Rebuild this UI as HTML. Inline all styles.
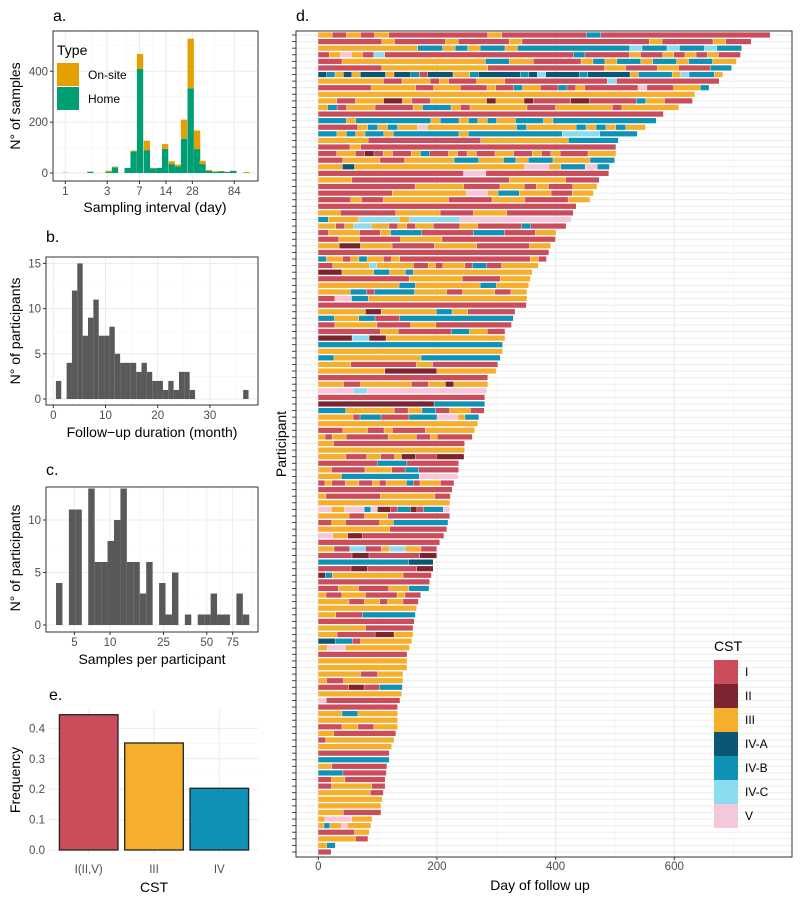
<!DOCTYPE html>
<html><head><meta charset="utf-8">
<style>
html,body{margin:0;padding:0;background:#fff;}
svg{display:block;font-family:"Liberation Sans",Arial,sans-serif;}
.tick{font-size:11.5px;fill:#4d4d4d;}
.atitle{font-size:14px;fill:#000;}
.plab{font-size:16px;fill:#000;}
</style></head>
<body>
<svg id="fig" width="800" height="900" viewBox="0 0 800 900"></svg>
<script>
// ---------- Panel a data ----------
const aDays   = [1.0,1.93,3.12,3.68,5.13,6.0,7.1,8.5,10.0,11.8,13.7,16.3,19.2,22.5,26.8,31.7,36.6,43.1,50.6,59.6,69.6,81.9,116];
const aHome   = [1,5,5,22,20,85,409,90,18,20,95,35,26,135,333,94,35,8,5,7,4,8,1];
const aOnsite = [0,0,4,3,0,3,59,37,2,0,19,11,7,75,195,73,13,4,2,1,1,1,3];
const aXTicks = [1,3,7,14,28,84];
const aYTicks = [0,200,400];
// ---------- Panel b data ----------
const bCounts = [2,0,4,12,15,7,9,11,7,7,8,5,4,4,4,3,4,3,2,2,1,2,1,3,3,1,0,0,0,0,0,0,0,0,0,1];
const bXTicks = [0,10,20,30];
const bYTicks = [0,5,10,15];
// ---------- Panel c data ----------
const cCounts = [4,0,11,11,0,13,6,6,8,10,13,6,6,3,6,0,4,1,5,0,1,0,1,1,3,1,1,0,3,1];
const cXTicks = [5,10,25,50,75];
const cYTicks = [0,5,10];
// ---------- Panel e data ----------
const eCats = ["I(II,V)","III","IV"];
const eVals = [0.445,0.352,0.203];
const eYTicks = [0,0.1,0.2,0.3,0.4];
// ---------- Panel d data ----------
const dLengths = [762,730,714,712,705,697,682,676,659,635,631,608,582,570,552,538,506,502,502,500,491,490,474,470,464,458,435,430,427,418,401,400,392,
389,385,371,361,358,355,352,352,351,332,329,326,315,315,311,311,307,303,300,286,286,284,281,281,280,271,269,264,260,247,247,246,
237,237,236,229,226,223,222,222,222,219,217,212,205,200,200,194,194,191,188,187,173,169,166,164,162,160,160,158,154,150,150,150,
143,143,142,141,138,134,134,134,134,131,128,124,120,120,116,115,113,113,110,108,106,106,91,89,86,84,29,22];
const dSeqs = ["3131311111113111111B111111111111","1111131111311113111111111131111311","33333333BB3B3BB3BBBBBBBBBCBBCBBCBB","13531C11111111111111111B11113113131311",
"11333333333333BB3311113B3BB3BB3BB33","1111113333333333111111111113311133111BB","AB3A3AAA3AAB1AAA33BAAAAABACAAAABAAAAA3BBBB3CBBB3","3333333113331311133311111111111C11111111111",
"1111113333311333111311B3311B131111115111333B","3","3311333223113333332333211112211111B33111","3B133311113BBB313333331113333331333333","1",
"BBB3BBBBBBBB3BB3B3B33BBB3BBBBBBBBBBB","11113B3B335333333333B33333B3B3B33","BB3B3BB3BBBBBBB3BBBBBBBBBBCCCCBBBB","33331111111113333333BBBB","1113111111111111111111111111",
"11331213113B11313113311313111333","11333113333BB33B3BB333BB","33A33333333333333553BB5B","11111111111115511111111111","3331111111111111133333111","11111111333311133131133",
"11111113333333553BB3331133","1113113333331111333111133","1","33111113333111333111111","B333CCCC3CCCCC55555555555","3313CC33131331113311111B1111","1333113BBB11111BBB11133",
"11331111333311111111111","3322333111133331111133","1","B3313B3313111111111111111131","1133333C3333311313331BB1133333","2223333BB33B333333333333333","1111111111113333333111113333",
"3333333333BB33333333BB3333","3333BB1BBBBB33331133331133","1155BB3333333333333333333","1","333333223333333BB33111111","BB333BB111BBBBBBBBBBBBBB","11333331111333111111111",
"111111133111111BB3311","2222CC2233333333333333","B","3","BB33333333333BBBBBBBBBB","3333111111113311111111","333333333222222233333333","1","33311333333113323333",
"55555CC55555555555555555","1","2222222222222222BBBBBBB","BBBB33333331133BB1133311","333331BBB1111BBBB5553BB","3","1113331131111333333","3133111111333311311111",
"3311111111111111111","3","333311133113221112222","11111111BBBB1111111","3311111333311BB111111","333BBBBBBBBBB55555","1311331131333B133311","1","31111111333333311","3",
"5533555B5221BB21BBB5","33331133311111111","11331111133BBBBBBBB","333333333311111111","55332211111111111","1","3311CC113CC3311","11112211111122","BBBBBBBBBBBAAA",
"11112211111122","2B33333333331111","1","113311133BB","3113331111311","3333113313311","3","33111BBBBBB","1","3333311111","3311112233","AABB1333333","3553333333","1","3","3",
"3333311333","3113333333","11112211BBB","3","5111111111","1","333BB33333","3","1113311333","3311111111","1333333333","3","1","B","3311111111","BBBB1111111","1133111111",
"1133333311","3333333311","3","3","3333111111","35555333","3B3353333","1111133","33333311","33BB","11"];
const dXTicks = [0,200,400,600];
const cstNames = ["I","II","III","IV-A","IV-B","IV-C","V"];
const cstCodes = ["1","2","3","A","B","C","5"];
const cstColors = ["#CB4D5B","#7C2530","#F6AE2D","#0B5672","#0E93B7","#8ADDF0","#F5C7DB"];

const NS="http://www.w3.org/2000/svg";
const svg=document.getElementById('fig');
function mk(tag,attrs,parent){const e=document.createElementNS(NS,tag);for(const k in attrs)e.setAttribute(k,attrs[k]);(parent||svg).appendChild(e);return e;}
function txt(s,x,y,cls,anchor,parent,rot){const t=mk('text',{x:x,y:y,class:cls,'text-anchor':anchor||'middle'},parent);if(rot)t.setAttribute('transform','rotate(-90 '+x+' '+y+')');t.textContent=s;return t;}
function grp(name){const g=mk('g',{});return g;}
function hline(g,x1,x2,y,c,w){mk('line',{x1:x1,x2:x2,y1:y,y2:y,stroke:c,'stroke-width':w},g);}
function vline(g,x,y1,y2,c,w){mk('line',{x1:x,x2:x,y1:y1,y2:y2,stroke:c,'stroke-width':w},g);}
const GMAJ="#ebebeb",GMIN="#f4f4f4";

// ===== Panel a =====
(function(){
const g=grp('panel-a');
const L=53,R=258,T=31,B=181;
const xs=d=>65.3+87.8*Math.log10(d);
const ys=v=>173-v*0.2543;
[100,300,500].forEach(v=>hline(g,L,R,ys(v),GMIN,0.6));
aYTicks.forEach(v=>hline(g,L,R,ys(v),GMAJ,1));
[2,5,10,20,50].forEach(v=>vline(g,xs(v),T,B,GMIN,0.6));
aXTicks.forEach(v=>vline(g,xs(v),T,B,GMAJ,1));
const hw=0.036;
for(let i=0;i<aDays.length;i++){
  const x0=xs(aDays[i]/Math.pow(10,hw)), x1=xs(aDays[i]*Math.pow(10,hw));
  const h=mk('rect',{x:x0,y:ys(aHome[i]),width:x1-x0,height:ys(0)-ys(aHome[i]),fill:'#009E73'},g);
  
  const o=mk('rect',{x:x0,y:ys(aHome[i]+aOnsite[i]),width:x1-x0,height:ys(aHome[i])-ys(aHome[i]+aOnsite[i]),fill:'#E69F00'},g);
  
}
mk('rect',{x:L,y:T,width:R-L,height:B-T,fill:'none',stroke:'#333','stroke-width':1},g);
aYTicks.forEach(v=>{hline(g,L-3,L,ys(v),'#333',1);txt(String(v),L-5,ys(v)+4,'tick','end',g);});
aXTicks.forEach(v=>{vline(g,xs(v),B,B+3,'#333',1);txt(String(v),xs(v),B+14,'tick','middle',g);});
txt('a.',53,21,'plab','start',g);
txt('N° of samples',20,106,'atitle','middle',g,true);
txt('Sampling interval (day)',155,212,'atitle','middle',g);
const lg=grp('legend-type');
txt('Type',57,55,'atitle','start',lg);
mk('rect',{x:57,y:63,width:22,height:23,fill:'#E69F00'},lg);
txt('On-site',88,79,'tick','start',lg).setAttribute('style','fill:#000;font-size:12px');
mk('rect',{x:57,y:87,width:22,height:23,fill:'#009E73'},lg);
txt('Home',88,103,'tick','start',lg).setAttribute('style','fill:#000;font-size:12px');
})();

// ===== Panel b =====
(function(){
const g=grp('panel-b');
const L=46,R=258,T=257,B=405;
const xs=m=>53.3+5.22*m;
const ys=v=>399-9.04*v;
[2.5,7.5,12.5].forEach(v=>hline(g,L,R,ys(v),GMIN,0.6));
bYTicks.forEach(v=>hline(g,L,R,ys(v),GMAJ,1));
[5,15,25,35].forEach(v=>vline(g,xs(v),T,B,GMIN,0.6));
bXTicks.forEach(v=>vline(g,xs(v),T,B,GMAJ,1));
const bw=1.025,b0=0.5;
bCounts.forEach((c,i)=>{ if(!c)return;
  const r=mk('rect',{x:xs(b0+i*bw),y:ys(c),width:xs(b0+(i+1)*bw)-xs(b0+i*bw),height:ys(0)-ys(c),fill:'#595959'},g);
  });
mk('rect',{x:L,y:T,width:R-L,height:B-T,fill:'none',stroke:'#333','stroke-width':1},g);
bYTicks.forEach(v=>{hline(g,L-3,L,ys(v),'#333',1);txt(String(v),L-5,ys(v)+4,'tick','end',g);});
bXTicks.forEach(v=>{vline(g,xs(v),B,B+3,'#333',1);txt(String(v),xs(v),B+14,'tick','middle',g);});
txt('b.',46,242,'plab','start',g);
txt('N° of participants',20,331,'atitle','middle',g,true);
txt('Follow\u2212up duration (month)',152,437,'atitle','middle',g);
})();

// ===== Panel c =====
(function(){
const g=grp('panel-c');
const L=46,R=258,T=487,B=632;
const tr=v=>Math.log(v+2);
const xs=v=>110+66*(tr(v)-tr(10));
const xt=t=>110+66*(t-tr(10));
const ys=v=>625-10.5*v;
[2.5,7.5,12.5].forEach(v=>hline(g,L,R,ys(v),GMIN,0.6));
cYTicks.forEach(v=>hline(g,L,R,ys(v),GMAJ,1));
[7,17,37,62,100].forEach(v=>vline(g,xs(v),T,B,GMIN,0.6));
cXTicks.forEach(v=>vline(g,xs(v),T,B,GMAJ,1));
const t0=1.667,tw=0.0976;
cCounts.forEach((c,i)=>{ if(!c)return;
  const r=mk('rect',{x:xt(t0+i*tw),y:ys(c),width:xt(t0+(i+1)*tw)-xt(t0+i*tw),height:ys(0)-ys(c),fill:'#595959'},g);
  });
mk('rect',{x:L,y:T,width:R-L,height:B-T,fill:'none',stroke:'#333','stroke-width':1},g);
cYTicks.forEach(v=>{hline(g,L-3,L,ys(v),'#333',1);txt(String(v),L-5,ys(v)+4,'tick','end',g);});
cXTicks.forEach(v=>{vline(g,xs(v),B,B+3,'#333',1);txt(String(v),xs(v),B+14,'tick','middle',g);});
txt('c.',46,475,'plab','start',g);
txt('N° of participants',20,558,'atitle','middle',g,true);
txt('Samples per participant',152,664,'atitle','middle',g);
})();

// ===== Panel e =====
(function(){
const g=grp('panel-e');
const L=49,R=258,T=710,B=855;
const ys=v=>850-304*v;
const xc=i=>88.7+65.3*i;
[0.05,0.15,0.25,0.35].forEach(v=>hline(g,L,R,ys(v),GMIN,0.6));
eYTicks.forEach(v=>hline(g,L,R,ys(v),GMAJ,1));
eCats.forEach((c,i)=>vline(g,xc(i),T,B,GMAJ,1));
const ecol=["#CB4D5B","#F6AE2D","#0E93B7"];
eVals.forEach((v,i)=>{const r=mk('rect',{x:xc(i)-29.3,y:ys(v),width:58.6,height:ys(0)-ys(v),fill:ecol[i],stroke:'#222','stroke-width':1.3},g);
  });
eYTicks.forEach(v=>txt(v.toFixed(1),L-4,ys(v)+4,'tick','end',g));
eCats.forEach((c,i)=>txt(c,xc(i),873,'tick','middle',g));
txt('e.',49,700,'plab','start',g);
txt('Frequency',20,780,'atitle','middle',g,true);
txt('CST',154,892,'atitle','middle',g);
})();

// ===== Panel d =====
(function(){
const g=grp('panel-d');
const L=296,R=792,T=31,B=857;
const xs=d=>318.3+0.5933*d;
const n=dLengths.length;
const y0=35,step=(852-35)/(n-1);
const ys=i=>y0+i*step;
for(let i=0;i<n;i++) hline(g,L,R,ys(i),GMAJ,0.9);
[100,300,500,700].forEach(v=>vline(g,xs(v),T,B,GMIN,0.8));
dXTicks.forEach(v=>vline(g,xs(v),T,B,GMAJ,1.2));
const bh=5.2;
for(let i=0;i<n;i++){
  const s=dSeqs[i],len=dLengths[i],u=len/s.length;
  let j=0;
  while(j<s.length){let k=j;while(k<s.length&&s[k]===s[j])k++;
    const ci=cstCodes.indexOf(s[j]);
    const r=mk('rect',{x:xs(j*u),y:ys(i)-bh/2,width:Math.max(0.5,xs(k*u)-xs(j*u)-0.4),height:bh,fill:cstColors[ci]},g);
    
    j=k;}
  hline(g,L-4,L,ys(i),'#333',0.9);
}
mk('rect',{x:L,y:T,width:R-L,height:B-T,fill:'none',stroke:'#333','stroke-width':1},g);
dXTicks.forEach(v=>{vline(g,xs(v),B,B+3,'#333',1);txt(String(v),xs(v),B+13,'tick','middle',g);});
txt('d.',296,21,'plab','start',g);
txt('Participant',286,444,'atitle','middle',g,true);
txt('Day of follow up',540,890,'atitle','middle',g);
const lg=grp('legend-cst');
txt('CST',714,651,'atitle','start',lg);
cstNames.forEach((nm,i)=>{
  const r=mk('rect',{x:714,y:660+i*24,width:24,height:24,fill:cstColors[i]},lg);
  
  txt(nm,745,676+i*24,'tick','start',lg).setAttribute('style','fill:#000;font-size:12px');
});
})();
</script>
</body></html>
